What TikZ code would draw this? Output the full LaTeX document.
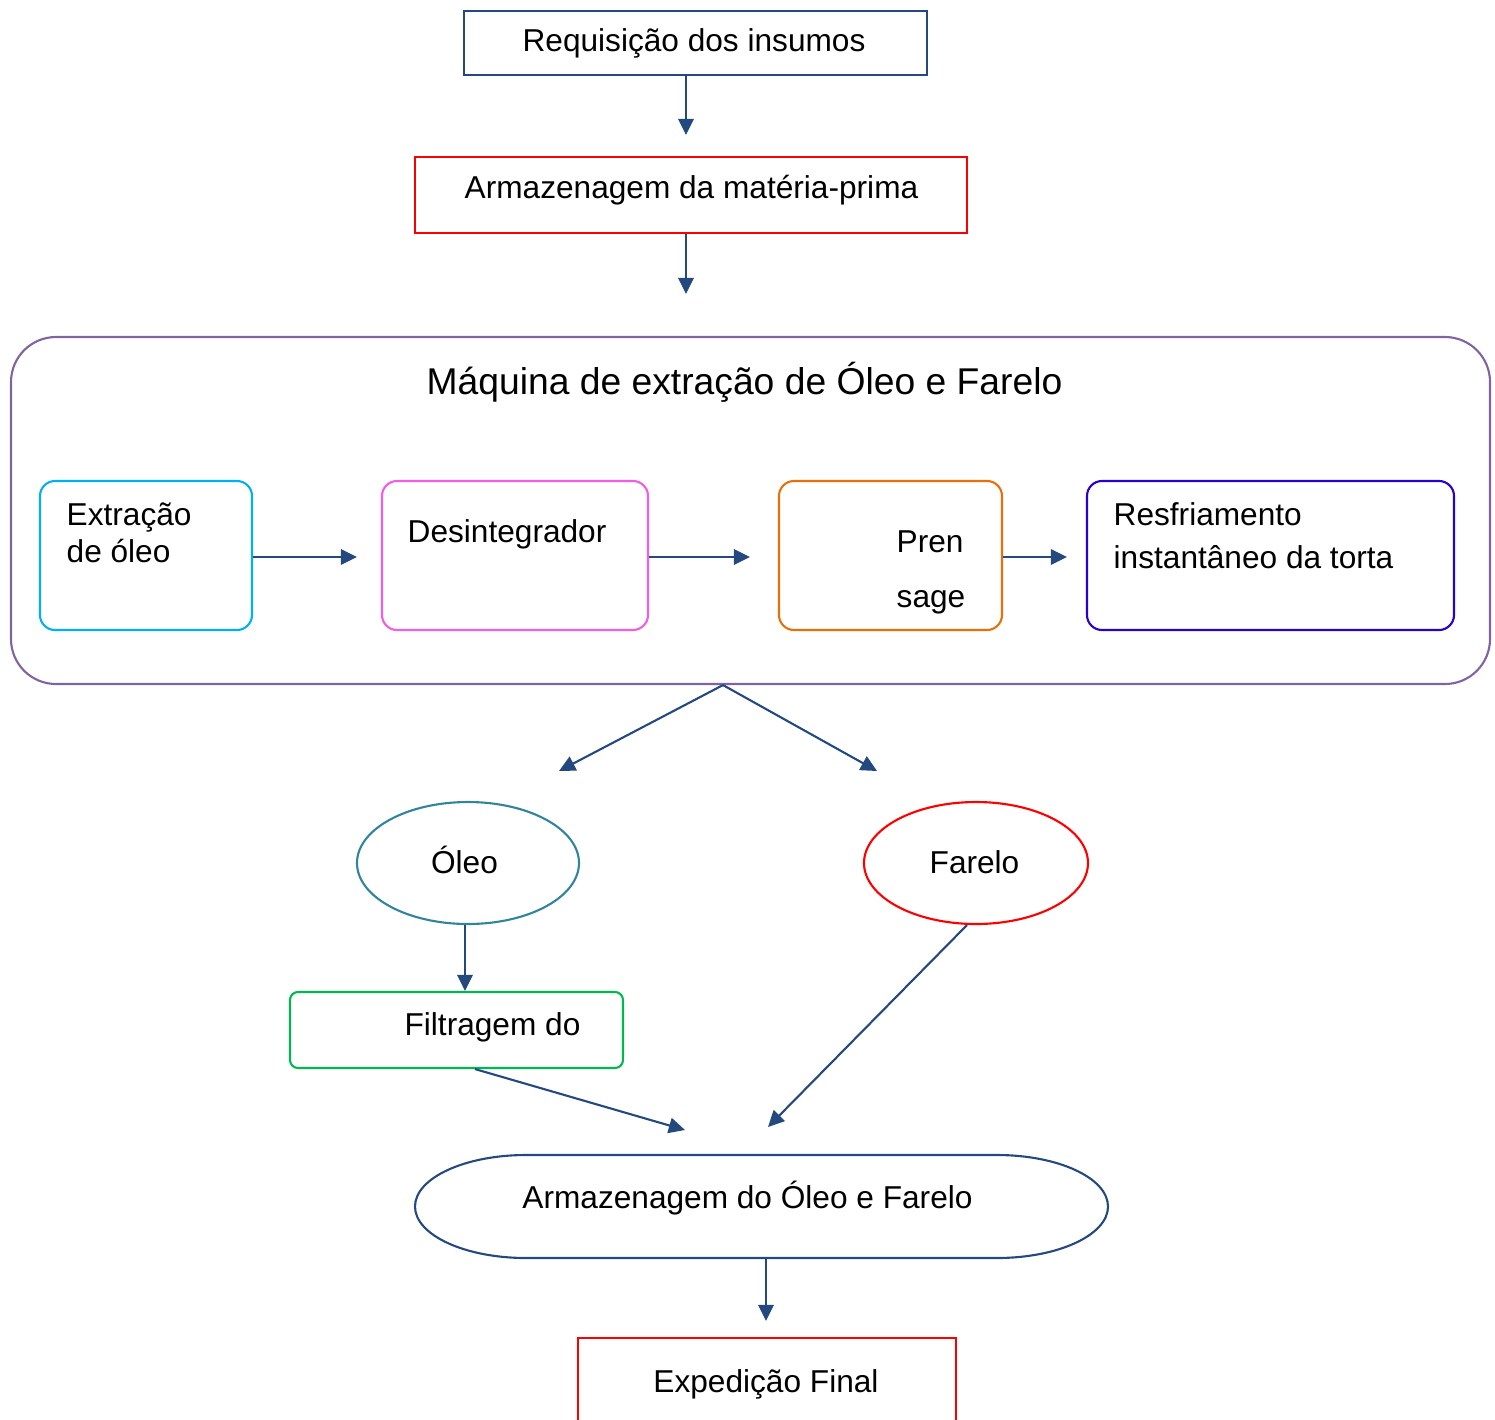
\documentclass[tikz,border=0pt]{standalone}
\usepackage{fontspec}
\setmainfont{Liberation Sans}
\usetikzlibrary{arrows.meta,shapes.geometric}

\definecolor{azulseta}{HTML}{24497F}
\definecolor{roxo}{HTML}{8064A2}
\definecolor{ciano}{HTML}{00B0F0}
\definecolor{rosa}{HTML}{F45CE6}
\definecolor{laranja}{HTML}{E8700A}
\definecolor{anil}{HTML}{2A00D0}
\definecolor{verde}{HTML}{00B852}
\definecolor{petroleo}{HTML}{31849B}

\tikzset{
  caixa/.style={draw, line width=0.6pt, inner sep=0pt},
  rotulo/.style={inner sep=0pt, anchor=base, font=\fontsize{9}{10.5}\selectfont},
  seta/.style={draw=azulseta, line width=0.6pt, -{Triangle[length=4.6pt,width=4.4pt]}}
}

\begin{document}
\begin{tikzpicture}
        \clip (0,0) rectangle (14.95,-14.2);
        % topo
        \node[caixa, draw=azulseta, minimum width=4.63cm, minimum height=0.64cm] (req) at (6.955,-0.43) {};
        \node[rotulo] (treq) at (6.94,-0.515) {Requisição dos insumos};
        \node[caixa, draw=red, minimum width=5.52cm, minimum height=0.76cm] (arm) at (6.91,-1.95) {};
        \node[rotulo] (tarm) at (6.915,-1.98) {Armazenagem da matéria-prima};
        \coordinate (p1) at (6.86,-1.35);
        \coordinate (p2) at (6.86,-2.94);
        \draw[seta] (req.south -| p1) -- (p1);
        \draw[seta] (arm.south -| p2) -- (p2);
        % maquina
        \node[caixa, draw=roxo, rounded corners=0.45cm, minimum width=14.79cm, minimum height=3.47cm] (maq) at (7.505,-5.105) {};
        \node[rotulo, font=\fontsize{10.6}{12}\selectfont] (tmaq) at (7.445,-3.94) {Máquina de extração de Óleo e Farelo};
        \node[caixa, draw=ciano, rounded corners=0.15cm, minimum width=2.12cm, minimum height=1.49cm] (ext) at (1.46,-5.555) {};
        \node[rotulo, anchor=base west, align=left] (text) at (0.66,-5.62) {Extração\\de óleo};
        \node[caixa, draw=rosa, rounded corners=0.15cm, minimum width=2.66cm, minimum height=1.49cm] (des) at (5.15,-5.555) {};
        \node[rotulo, anchor=base west] (tdes) at (4.07,-5.42) {Desintegrador};
        \node[caixa, draw=laranja, rounded corners=0.15cm, minimum width=2.23cm, minimum height=1.49cm] (pre) at (8.905,-5.555) {};
        \node[rotulo, anchor=base west, align=left] (tpre) at (8.96,-6.07) {Pren\\[4.9pt]sage};
        \node[caixa, draw=anil, rounded corners=0.15cm, minimum width=3.67cm, minimum height=1.49cm] (res) at (12.705,-5.555) {};
        \node[rotulo, anchor=base west, align=left] (tres) at (11.13,-5.68) {Resfriamento\\[1.7pt]instantâneo da torta};
        \coordinate (p3) at (3.57,-5.57);
        \coordinate (p4) at (7.5,-5.57);
        \coordinate (p5) at (10.67,-5.57);
        \draw[seta] (ext.east |- p3) -- (p3);
        \draw[seta] (des.east |- p4) -- (p4);
        \draw[seta] (pre.east |- p5) -- (p5);
        % saidas
        \coordinate (bifur) at (7.23,-6.84);
        \coordinate (p6) at (5.59,-7.71);
        \coordinate (p7) at (8.77,-7.71);
        \draw[seta] (maq.south -| bifur) -- (p6);
        \draw[seta] (maq.south -| bifur) -- (p7);
        \node[caixa, ellipse, draw=petroleo, minimum width=2.22cm, minimum height=1.22cm] (oleo) at (4.68,-8.63) {};
        \node[rotulo] (toleo) at (4.645,-8.73) {Óleo};
        \node[caixa, ellipse, draw=red, minimum width=2.24cm, minimum height=1.22cm] (far) at (9.76,-8.63) {};
        \node[rotulo] (tfar) at (9.745,-8.73) {Farelo};
        \node[caixa, draw=verde, rounded corners=0.08cm, minimum width=3.33cm, minimum height=0.76cm] (fil) at (4.565,-10.3) {};
        \node[rotulo] (tfil) at (4.925,-10.35) {Filtragem do};
        \coordinate (p8) at (6.85,-11.3);
        \coordinate (p9) at (7.68,-11.27);
        \coordinate (p11) at (4.65,-9.91);
        \coordinate (q1) at (4.75,-10.68);
        \draw[seta] (oleo.south -| p11) -- (p11);
        \draw[seta] (fil.south -| q1) -- (p8);
        \draw[seta] ([xshift=-0.09cm]far.south) -- (p9);
        % armazenagem final
        \node[minimum width=6.93cm, minimum height=1.03cm, inner sep=0pt, outer sep=0pt] (arof) at (7.615,-12.065) {};
        \draw[azulseta, line width=0.6pt] ([xshift=1.11cm]arof.north west) -- ++(4.71,0)
          arc[start angle=90, end angle=-90, x radius=1.11cm, y radius=0.515cm]
          -- ++(-4.71,0)
          arc[start angle=270, end angle=90, x radius=1.11cm, y radius=0.515cm] -- cycle;
        \node[rotulo] (tarof) at (7.475,-12.08) {Armazenagem do Óleo e Farelo};
        \coordinate (p10) at (7.66,-13.21);
        \draw[seta] (arof.south -| p10) -- (p10);
        \node[caixa, draw=red, minimum width=3.78cm, minimum height=1.2cm, anchor=north] (exp) at (7.67,-13.37) {};
        \node[rotulo] (texp) at (7.66,-13.92) {Expedição Final};
\end{tikzpicture}
\end{document}
